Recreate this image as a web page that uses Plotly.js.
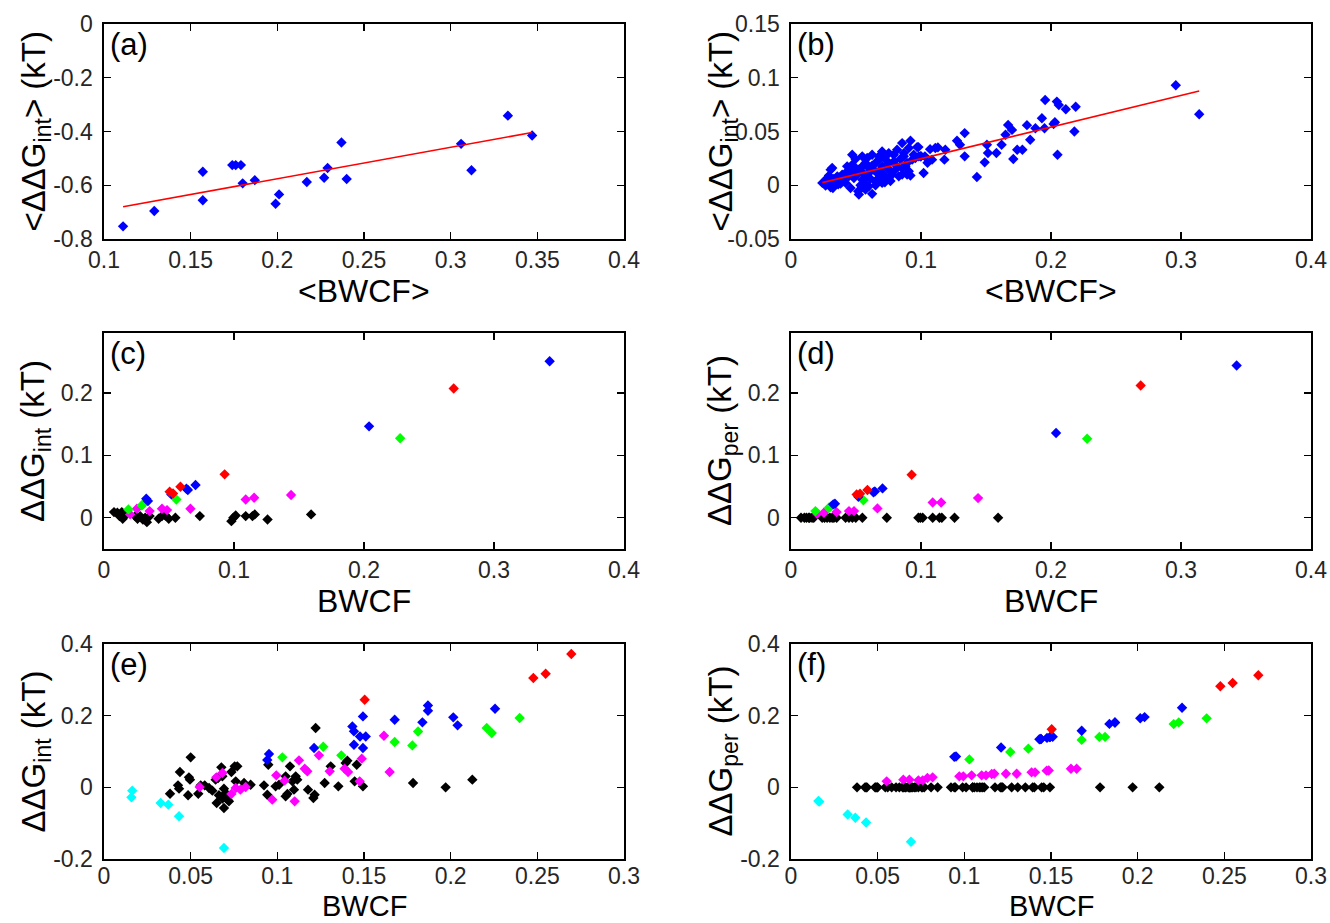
<!DOCTYPE html>
<html>
<head>
<meta charset="utf-8">
<script src="https://cdn.plot.ly/plotly-3.0.1.min.js"></script>
<style>html,body{margin:0;padding:0;background:#fff;}#chart{width:1330px;height:923px;}</style>
</head>
<body>
<div id="chart"></div>
<script>
// ---------- Panel (a) ----------
const bwcfA = [0.111,0.129,0.157,0.157,0.174,0.176,0.179,0.180,0.187,0.199,0.201,0.217,0.227,0.229,0.237,0.240,0.306,0.312,0.333,0.347];
const ddgA  = [-0.753,-0.696,-0.550,-0.656,-0.525,-0.525,-0.525,-0.593,-0.581,-0.669,-0.634,-0.588,-0.572,-0.536,-0.441,-0.577,-0.446,-0.544,-0.341,-0.415];

// ---------- Panel (b) ----------
const bwcfB = [
  0.0241,0.0266,0.0305,0.0322,0.0363,0.0381,0.0420,0.0458,0.0522,0.0517,0.0578,0.0599,0.0624,0.0701,0.0722,
  0.0279,0.0292,0.0330,0.0356,0.0394,0.0420,0.0445,0.0484,0.0509,0.0548,0.0560,0.0586,0.0650,0.0676,0.0714,0.0752,0.0778,0.0829,0.0893,0.0919,
  0.0305,0.0317,0.0432,0.0471,0.0496,0.0522,0.0548,0.0573,0.0599,0.0624,0.0650,0.0676,0.0701,0.0727,0.0752,0.0791,0.0816,0.0842,0.0868,0.0893,0.0932,0.0957,0.0983,
  0.0471,0.0496,0.0548,0.0586,0.0624,0.0676,0.0701,0.0727,0.0752,0.0791,0.0816,0.0855,0.0868,0.0906,0.0919,0.0944,0.0970,0.0996,
  0.0266,0.0292,0.0356,0.0394,0.0458,0.0484,0.0535,0.0599,0.0637,0.0663,0.0688,0.0740,0.0765,0.0803,0.0855,0.0880,0.0906,0.0650,0.0573,0.0535,0.0611,0.0765,0.0855,
  0.098,0.100,0.102,0.103,0.105,0.107,0.1085,0.111,0.113,0.118,0.1187,0.1277,0.130,0.1336,0.1336,
  0.143,0.149,0.1507,0.1515,0.158,0.162,0.165,0.167,0.170,0.171,0.174,0.178,0.1815,0.184,0.188,0.193,0.1955,0.195,0.202,0.203,0.2045,0.206,0.205,0.2114,0.218,0.219,0.296,0.314
];
const ddgB = [
  0.0022,-0.0003,-0.0019,-0.0025,0.0009,0.0015,0.0022,-0.0025,-0.0086,-0.0056,0.0006,-0.0009,-0.0080,0.0022,0.0028,
  0.0068,0.0090,0.0059,0.0083,0.0099,0.0114,0.0083,0.0068,0.0099,0.0052,0.0108,0.0083,0.0037,0.0068,0.0099,0.0068,0.0099,0.0083,0.0099,0.0090,
  0.0145,0.0160,0.0176,0.0191,0.0160,0.0145,0.0176,0.0207,0.0160,0.0182,0.0207,0.0238,0.0176,0.0238,0.0207,0.0222,0.0176,0.0244,0.0269,0.0207,0.0238,0.0253,0.0269,
  0.0284,0.0244,0.0269,0.0253,0.0284,0.0269,0.0315,0.0269,0.0299,0.0284,0.0330,0.0392,0.0299,0.0346,0.0414,0.0284,0.0355,0.0269,
  0.0037,0.0022,0.0037,0.0052,0.0130,0.0114,0.0130,0.0114,0.0145,0.0114,0.0145,0.0160,0.0130,0.0145,0.0160,0.0176,0.0130,0.0000,-0.0040,0.0000,0.0060,0.0040,0.0100,
  0.0355,0.0270,0.0114,0.0269,0.0210,0.0336,0.0238,0.0346,0.0352,0.0238,0.0330,0.0414,0.0377,0.0485,0.0269,
  0.0077,0.0213,0.0377,0.0300,0.0300,0.0377,0.0470,0.0560,0.0515,0.0244,0.0330,0.0330,0.0559,0.0423,0.0530,0.0623,0.0793,0.0530,0.0570,0.0586,0.0778,0.0747,0.0284,0.0707,0.0500,0.0730,0.0930,0.0660
];

// ---------- Panels (c) and (d): same BWCF, two energies ----------
const blackCD_x = [0.0077,0.0103,0.0119,0.0137,0.0144,0.0162,0.0175,0.0240,0.0258,0.0278,0.0299,0.0317,0.0330,0.0351,0.0420,0.0446,0.0472,0.0498,0.0549,0.0737,0.0980,0.0995,0.1013,0.1090,0.1142,0.1160,0.1258,0.1593];
const blackC_y  = [0.0091,0.0080,0.0027,0.0091,-0.0016,0.0037,0.0080,0.0027,-0.0016,0.0027,-0.0027,0.0000,-0.0070,0.0027,-0.0016,0.0027,0.0037,-0.0016,0.0000,0.0027,-0.0054,0.0000,0.0037,0.0027,0.0027,0.0054,-0.0027,0.0054];
const blackD_y  = [0,0,0,0,0,0,0,0,0,0,0,0,0,0,0,0,0,0,0,0,0,0,0,0,0,0,0,0];
const magentaCD_x = [0.0201,0.0253,0.0351,0.0446,0.0485,0.0665,0.1090,0.1155,0.1439];
const magentaC_y  = [0.0054,0.0144,0.0107,0.0144,0.0123,0.0144,0.0294,0.0321,0.0364];
const magentaD_y  = [0.0064,0.0080,0.0091,0.0107,0.0107,0.0150,0.0246,0.0246,0.0315];
const greenCD_x = [0.0188,0.0291,0.0304,0.0557,0.2278];
const greenC_y  = [0.0134,0.0198,0.0225,0.0294,0.1273];
const greenD_y  = [0.0107,0.0160,0.0177,0.0280,0.1267];
const blueCD_x = [0.0325,0.0338,0.0518,0.0634,0.0645,0.0704,0.2039,0.3428];
const blueC_y  = [0.0305,0.0268,0.0375,0.0465,0.0444,0.0524,0.1465,0.2508];
const blueD_y  = [0.0215,0.0225,0.0337,0.0410,0.0420,0.0471,0.1358,0.2439];
const redCD_x = [0.0505,0.0531,0.0588,0.0928,0.2690];
const redC_y  = [0.0417,0.0390,0.0498,0.0696,0.2070];
const redD_y  = [0.0375,0.0385,0.0444,0.0690,0.2118];

// ---------- Panels (e) and (f): same BWCF, two energies ----------
const cyanEF_x = [0.0158,0.0163,0.0327,0.0371,0.0433,0.0692];
const cyanE_y  = [-0.0279,-0.0093,-0.0437,-0.0483,-0.0809,-0.1692];
const cyanF_y  = [-0.038,-0.040,-0.076,-0.085,-0.098,-0.152];
const blackEF_x = [0.0381,0.0427,0.0433,0.0438,0.0485,0.0490,0.0496,0.0500,0.0544,0.0558,0.0581,0.0606,0.0625,0.0644,0.0650,0.0658,0.0663,0.0677,0.0683,0.0683,
  0.0692,0.0692,0.0702,0.0712,0.0721,0.0735,0.0754,0.0760,0.0769,0.0808,0.0846,0.0923,0.0942,0.0948,0.0990,0.1010,0.1048,0.1048,0.1058,0.1073,
  0.1087,0.1096,0.1106,0.1115,0.1177,0.1208,0.1215,0.1221,0.1273,0.1308,0.1352,0.1394,0.1404,0.1446,0.1458,0.1494,0.1783,0.1971,0.2125];
const blackE_y  = [-0.0177,0.0056,-0.0037,0.0428,-0.0223,0.0279,0.0214,0.0837,-0.0177,0.0056,0.0056,-0.0019,-0.0093,0.0214,-0.0437,0.0260,-0.0223,0.0558,0.0307,-0.0316,
  -0.0037,-0.0576,-0.0158,-0.0344,-0.0391,0.0428,0.0586,0.0167,0.0586,0.0121,0.0074,0.0056,-0.0205,0.0632,0.0028,0.0074,0.0307,-0.0251,-0.0186,0.0586,
  0.0167,-0.0065,0.0307,0.0214,-0.0065,-0.0298,-0.0205,0.1655,0.0121,0.0586,0.0028,0.0679,0.0744,0.0167,0.0632,0.0028,0.0121,0.0000,0.0214];
const blackF_y  = [0,0,0,0,0,0,0,0,0,0,0,0,0,0,0,0,0,0,0,0,
  0,0,0,0,0,0,0,0,0,0,0,0,0,0,0,0,0,0,0,0,
  0,0,0,0,0,0,0,0,0,0,0,0,0,0,0,0,0,0,0];
const magentaEF_x = [0.0552,0.0648,0.0683,0.0735,0.0760,0.0787,0.0817,0.0971,0.0994,0.1042,0.1100,0.1125,0.1158,0.1173,0.1240,0.1302,0.1388,0.1408,0.1475,0.1487,0.1615,0.1648];
const magentaE_y  = [0.0009,0.0279,0.0400,-0.0186,-0.0019,-0.0065,0.0010,-0.0344,0.0335,0.0186,-0.0391,0.0753,0.0521,0.0446,0.0893,0.0446,0.0521,0.0428,0.0167,0.0800,0.1441,0.0428];
const magentaF_y  = [0.0167,0.0214,0.0214,0.0195,0.0195,0.0260,0.0279,0.0307,0.0307,0.0335,0.0335,0.0335,0.0372,0.0381,0.0381,0.0381,0.0418,0.0418,0.0465,0.0470,0.0520,0.0520];
const greenEF_x = [0.1029,0.1265,0.1369,0.1677,0.1779,0.1812,0.2208,0.2237,0.2398];
const greenE_y  = [0.0837,0.1134,0.0893,0.1265,0.1170,0.1560,0.1655,0.1516,0.1934];
const greenF_y  = [0.0779,0.0986,0.1080,0.1324,0.1408,0.1408,0.1765,0.1812,0.1925];
const blueEF_x = [0.0942,0.0952,0.1212,0.1433,0.1442,0.1442,0.1477,0.1510,0.1494,0.1494,0.1677,0.1837,0.1869,0.1869,0.2015,0.2040,0.2256];
const blueE_y  = [0.0762,0.0930,0.1097,0.1700,0.1562,0.1190,0.1420,0.1420,0.1980,0.1097,0.1888,0.1813,0.2287,0.2139,0.1953,0.1730,0.2194];
const blueF_y  = [0.085,0.086,0.111,0.134,0.135,0.135,0.138,0.141,0.140,0.140,0.158,0.177,0.181,0.181,0.193,0.196,0.222];
const redEF_x = [0.1504,0.2477,0.2548,0.2696];
const redE_y  = [0.2445,0.3050,0.3170,0.3720];
const redF_y  = [0.1620,0.2820,0.2910,0.3130];

// ---------- Tick labels ----------
const xTicksA = [0.1,0.15,0.2,0.25,0.3,0.35,0.4];
const xTextA  = ['0.1','0.15','0.2','0.25','0.3','0.35','0.4'];
const yTicksA = [-0.8,-0.6,-0.4,-0.2,0];
const yTextA  = ['-0.8','-0.6','-0.4','-0.2','0'];
const xTicks4 = [0,0.1,0.2,0.3,0.4];
const xText4  = ['0','0.1','0.2','0.3','0.4'];
const yTicksB = [-0.05,0,0.05,0.1,0.15];
const yTextB  = ['-0.05','0','0.05','0.1','0.15'];
const yTicksCD = [0,0.1,0.2];
const yTextCD  = ['0','0.1','0.2'];
const xTicks3 = [0,0.05,0.1,0.15,0.2,0.25,0.3];
const xText3  = ['0','0.05','0.1','0.15','0.2','0.25','0.3'];
const yTicksEF = [-0.2,0,0.2,0.4];
const yTextEF  = ['-0.2','0','0.2','0.4'];

// ---------- helpers ----------
const FONT = '"Liberation Sans", Arial, Helvetica, sans-serif';
const W = 1330, H = 923;
const COLORS = {black:'#000000', magenta:'#FF00FF', green:'#00FF00', blue:'#0000FF', red:'#FF0000', cyan:'#00FFFF'};

function pts(x, y, color, n) {
  return {type:'scatter', mode:'markers', x:x, y:y, xaxis:'x'+n, yaxis:'y'+n,
    marker:{symbol:'diamond', size:8, color:color, line:{width:0}}, showlegend:false, hoverinfo:'x+y'};
}
function fitLine(x, y, n) {
  const m = x.length;
  const mx = x.reduce((a,b)=>a+b,0)/m, my = y.reduce((a,b)=>a+b,0)/m;
  let sxy=0, sxx=0;
  for (let i=0;i<m;i++){ sxy += (x[i]-mx)*(y[i]-my); sxx += (x[i]-mx)*(x[i]-mx); }
  const b = sxy/sxx, a = my - b*mx;
  const x0 = Math.min(...x), x1 = Math.max(...x);
  return {type:'scatter', mode:'lines', x:[x0,x1], y:[a+b*x0,a+b*x1], xaxis:'x'+n, yaxis:'y'+n,
    line:{color:'#FF0000', width:1.6}, showlegend:false, hoverinfo:'skip'};
}

const colL = [104/W, 624/W], colR = [791/W, 1311/W];
function rowDom(top, bottom){ return [1-bottom/H, 1-top/H]; }
const row1 = rowDom(24,239), row2 = rowDom(333,549), row3 = rowDom(644,859);

const TICKF = {family:FONT, size:23, color:'#262626'};
function xa(dom, n, range, vals, text, standoff){
  return {domain:dom, anchor:'y'+n, range:range, tickmode:'array', tickvals:vals, ticktext:text,
    ticks:'inside', ticklen:7, tickwidth:1.3, tickcolor:'#000', showline:true, linecolor:'#000', linewidth:1.6,
    mirror:'ticks', showgrid:false, zeroline:false, ticklabelstandoff:(standoff===undefined?0:standoff),
    tickfont:TICKF, fixedrange:true};
}
function ya(dom, n, range, vals, text){
  return {domain:dom, anchor:'x'+n, range:range, tickmode:'array', tickvals:vals, ticktext:text,
    ticks:'inside', ticklen:7, tickwidth:1.3, tickcolor:'#000', showline:true, linecolor:'#000', linewidth:1.6,
    mirror:'ticks', showgrid:false, zeroline:false, ticklabelstandoff:5,
    tickfont:TICKF, fixedrange:true};
}

const data = [
  pts(bwcfA, ddgA, COLORS.blue, ''), fitLine(bwcfA, ddgA, ''),
  pts(bwcfB, ddgB, COLORS.blue, 2), fitLine(bwcfB, ddgB, 2),
  pts(blackCD_x, blackC_y, COLORS.black, 3), pts(magentaCD_x, magentaC_y, COLORS.magenta, 3),
  pts(greenCD_x, greenC_y, COLORS.green, 3), pts(blueCD_x, blueC_y, COLORS.blue, 3), pts(redCD_x, redC_y, COLORS.red, 3),
  pts(blackCD_x, blackD_y, COLORS.black, 4), pts(magentaCD_x, magentaD_y, COLORS.magenta, 4),
  pts(greenCD_x, greenD_y, COLORS.green, 4), pts(blueCD_x, blueD_y, COLORS.blue, 4), pts(redCD_x, redD_y, COLORS.red, 4),
  pts(blackEF_x, blackE_y, COLORS.black, 5), pts(magentaEF_x, magentaE_y, COLORS.magenta, 5),
  pts(greenEF_x, greenE_y, COLORS.green, 5), pts(blueEF_x, blueE_y, COLORS.blue, 5), pts(redEF_x, redE_y, COLORS.red, 5),
  pts(cyanEF_x, cyanE_y, COLORS.cyan, 5),
  pts(blackEF_x, blackF_y, COLORS.black, 6), pts(magentaEF_x, magentaF_y, COLORS.magenta, 6),
  pts(greenEF_x, greenF_y, COLORS.green, 6), pts(blueEF_x, blueF_y, COLORS.blue, 6), pts(redEF_x, redF_y, COLORS.red, 6),
  pts(cyanEF_x, cyanF_y, COLORS.cyan, 6)
];

const XTITLE = 32, YTITLE = 33, LAB = 31;
function xt(text, col, yc, size){ return {text:text, xref:'paper', yref:'paper', x:(col[0]+col[1])/2, y:1-yc/H,
  xanchor:'center', yanchor:'middle', showarrow:false, font:{family:FONT, size:size||XTITLE, color:'#000'}}; }
function xtBottom(text, col, yb, size){ return {text:text, xref:'paper', yref:'paper', x:(col[0]+col[1])/2, y:1-yb/H,
  xanchor:'center', yanchor:'bottom', showarrow:false, borderpad:0, font:{family:FONT, size:size, color:'#000'}}; }
function yt(text, xc, row){ return {text:text, xref:'paper', yref:'paper', x:xc/W, y:(row[0]+row[1])/2,
  xanchor:'center', yanchor:'middle', textangle:-90, showarrow:false, font:{family:FONT, size:YTITLE, color:'#000'}}; }
function pl(text, xp, yp){ return {text:text, xref:'paper', yref:'paper', x:xp/W, y:1-yp/H,
  xanchor:'left', yanchor:'top', showarrow:false, font:{family:FONT, size:LAB, color:'#000'}}; }

const yInt = '&lt;ΔΔG<sub>int</sub>&gt; (kT)';
const yInt2 = 'ΔΔG<sub>int</sub> (kT)';
const yPer = 'ΔΔG<sub>per</sub> (kT)';

const layout = {
  width:W, height:H, margin:{l:0,r:0,t:0,b:0}, paper_bgcolor:'#fff', plot_bgcolor:'#fff',
  font:{family:FONT}, showlegend:false,
  xaxis:  xa(colL, '', [0.1,0.4], xTicksA, xTextA),
  yaxis:  ya(row1, '', [-0.8,0], yTicksA, yTextA),
  xaxis2: xa(colR, 2, [0,0.4], xTicks4, xText4),
  yaxis2: ya(row1, 2, [-0.05,0.15], yTicksB, yTextB),
  xaxis3: xa(colL, 3, [0,0.4], xTicks4, xText4),
  yaxis3: ya(row2, 3, [-0.05,0.296], yTicksCD, yTextCD),
  xaxis4: xa(colR, 4, [0,0.4], xTicks4, xText4),
  yaxis4: ya(row2, 4, [-0.05,0.296], yTicksCD, yTextCD),
  xaxis5: xa(colL, 5, [0,0.3], xTicks3, xText3, -4),
  yaxis5: ya(row3, 5, [-0.2,0.4], yTicksEF, yTextEF),
  xaxis6: xa(colR, 6, [0,0.3], xTicks3, xText3, -4),
  yaxis6: ya(row3, 6, [-0.2,0.4], yTicksEF, yTextEF),
  annotations:[
    xt('&lt;BWCF&gt;', colL, 291), xt('&lt;BWCF&gt;', colR, 291),
    xt('BWCF', colL, 601), xt('BWCF', colR, 601),
    xtBottom('BWCF', colL, 923, 29), xtBottom('BWCF', colR, 923, 29),
    yt(yInt, 35, row1), yt(yInt, 722, row1),
    yt(yInt2, 35, row2), yt(yPer, 722, row2),
    yt(yInt2, 35, row3), yt(yPer, 722, row3),
    pl('(a)', 108, 25), pl('(b)', 795, 25),
    pl('(c)', 108, 334), pl('(d)', 795, 334),
    pl('(e)', 108, 645), pl('(f)', 795, 645)
  ]
};

Plotly.newPlot('chart', data, layout, {staticPlot:true, displayModeBar:false});
</script>
</body>
</html>
